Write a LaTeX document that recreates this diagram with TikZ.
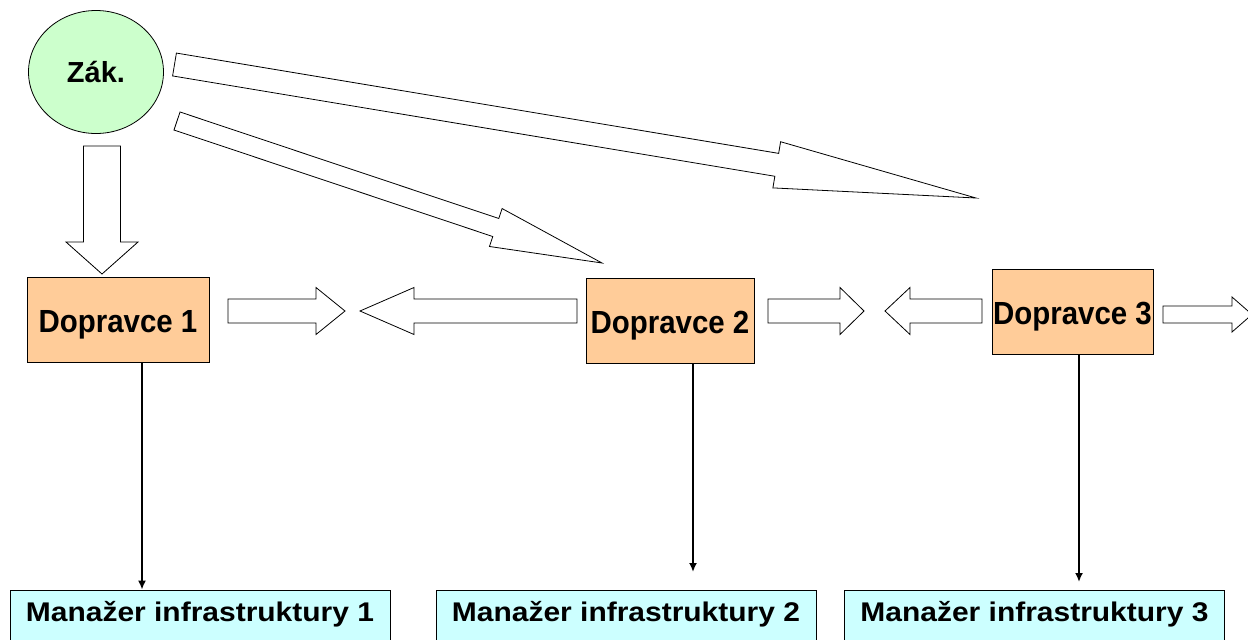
\documentclass[tikz,border=0pt]{standalone}
\usepackage{fontspec}
\setmainfont{Liberation Sans}
\newfontfamily\carrierfont[FakeStretch=0.92]{Liberation Sans}
\newfontfamily\managerfont[FakeStretch=1.11]{Liberation Sans}
\usetikzlibrary{calc, shapes.geometric, arrows.meta}
\tikzset{>={Latex[length=9pt,width=8pt]}}
\tikzset{carrier/.style = {draw=black, fill=carrierfill, line width=0.8pt, inner sep=0pt, text height=25pt, text depth=0pt, font=\carrierfont\bfseries\fontsize{32}{36}\selectfont}}
\tikzset{manager/.style = {draw=black, fill=managerfill, line width=0.8pt, inner sep=0pt, minimum width=380pt, minimum height=56pt, text height=19pt, text depth=12pt, font=\managerfont\bfseries\fontsize{27}{32}\selectfont}}
\tikzset{blockarr/.style = {draw=black, fill=white, line width=0.8pt, line join=miter}}
\tikzset{link/.style = {->, line width=2.6pt}}
\newcommand{\blockarrow}[5]{
   \coordinate (ba-head) at ($ (#2)!#5!(#1) $);
   \draw[blockarr] ($ (#1)!#3!90:(#2) $) -- ($ (ba-head)!#3!-90:(#1) $) -- ($ (ba-head)!#4!-90:(#1) $) -- (#2)
      -- ($ (ba-head)!#4!90:(#1) $) -- ($ (ba-head)!#3!90:(#1) $) -- ($ (#1)!#3!-90:(#2) $) -- cycle;
}
\definecolor{carrierfill}{RGB}{255,204,153}
\definecolor{managerfill}{RGB}{204,255,255}
\definecolor{clientfill}{RGB}{204,255,204}

\begin{document}
\begin{tikzpicture}[x=1pt, y=-1pt]
		\useasboundingbox (0,0) rectangle (1248,640);
		\clip (0,0) rectangle (1248,640);

		% Client
		\node[ellipse, draw=black, fill=clientfill, line width=0.8pt, minimum width=135pt, minimum height=123pt, inner sep=0pt, font=\bfseries\fontsize{29}{34}\selectfont] (zak) at (96,72) {Zák.};

		% Carriers
		\node[carrier, minimum width=182pt, minimum height=85pt] (d1) at (118,319.5) {Dopravce 1};
		\node[carrier, minimum width=168pt, minimum height=85pt] (d2) at (670,320.5) {Dopravce 2};
		\node[carrier, minimum width=161pt, minimum height=85pt] (d3) at (1072.5,311.5) {Dopravce 3};

		% Managers
		\node[manager] (m1) at (200,618) {Manažer infrastruktury 1};
		\node[manager] (m2) at (626,618) {Manažer infrastruktury 2};
		\node[manager] (m3) at (1034.5,618) {Manažer infrastruktury 3};

		% Orders
		\blockarrow{102,146}{102,274}{18.5pt}{36pt}{32pt}
		\blockarrow{177,121}{602,263}{9.5pt}{20pt}{112pt}
		\blockarrow{174.5,64.5}{976,198}{11.6pt}{23.4pt}{202pt}

		% Between carriers
		\blockarrow{228,311}{345,311}{12pt}{23.5pt}{29pt}
		\blockarrow{577,311}{360,311}{12pt}{23.5pt}{54pt}
		\blockarrow{768,311}{864,311}{12pt}{23.5pt}{24pt}
		\blockarrow{982,311}{885,311}{12pt}{23.5pt}{25pt}
		\blockarrow{1163,314.5}{1252,314.5}{8.5pt}{17.5pt}{20pt}

		% Links to managers
		\coordinate (t2) at (693,572);
		\coordinate (t3) at (1079,582);
		\draw[link] ([xshift=24pt]d1.south) -- ([xshift=24pt]d1.south |- m1.north);
		\draw[link] (d2.south -| t2) -- (t2);
		\draw[link] (d3.south -| t3) -- (t3);
	\end{tikzpicture}
\end{document}
